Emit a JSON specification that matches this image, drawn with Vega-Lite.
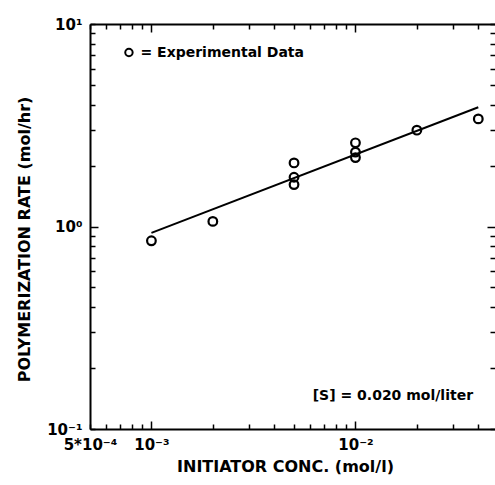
{
  "$schema": "https://vega.github.io/schema/vega-lite/v6.json",
  "width": 405,
  "height": 405,
  "autosize": "none",
  "padding": {"left": 90, "top": 24, "right": 0, "bottom": 56},
  "background": "white",
  "config": {
    "view": {"stroke": null},
    "axis": {
      "grid": false,
      "domainColor": "black",
      "domainWidth": 2,
      "tickColor": "black",
      "tickWidth": 1.5,
      "labelFont": "DejaVu Sans",
      "labelFontWeight": "bold",
      "labelFontSize": 15,
      "labelColor": "black",
      "labelFlush": false,
      "labelOverlap": false,
      "labelBound": false,
      "titleFont": "DejaVu Sans",
      "titleFontWeight": "bold",
      "titleFontSize": 16,
      "titleColor": "black"
    }
  },
  "datasets": {
    "obs": [
      {"conc": 0.001, "rate": 0.85},
      {"conc": 0.002, "rate": 1.06},
      {"conc": 0.005, "rate": 2.06},
      {"conc": 0.005, "rate": 1.75},
      {"conc": 0.005, "rate": 1.61},
      {"conc": 0.01, "rate": 2.59},
      {"conc": 0.01, "rate": 2.33},
      {"conc": 0.01, "rate": 2.19},
      {"conc": 0.02, "rate": 2.99},
      {"conc": 0.04, "rate": 3.40}
    ],
    "fit": [
      {"conc": 0.001, "rate": 0.93},
      {"conc": 0.04, "rate": 3.88}
    ],
    "legendmark": [
      {"conc": 0.000776, "rate": 7.23}
    ],
    "legendtext": [
      {"conc": 0.000884, "rate": 7.23, "label": "= Experimental Data"}
    ],
    "condition": [
      {"conc": 0.0377, "rate": 0.1455, "label": "[S] = 0.020 mol/liter"}
    ]
  },
  "layer": [
    {
      "data": {"name": "obs"},
      "mark": {"type": "point", "shape": "circle", "filled": false, "stroke": "black", "strokeWidth": 2.2, "size": 75, "opacity": 1},
      "encoding": {
        "x": {
          "field": "conc", "type": "quantitative",
          "scale": {"type": "log", "domain": [0.0005, 0.0483], "nice": false},
          "axis": {
            "orient": "bottom",
            "values": [0.0005, 0.0006, 0.0007, 0.0008, 0.0009, 0.001, 0.002, 0.003, 0.004, 0.005, 0.006, 0.007, 0.008, 0.009, 0.01, 0.02, 0.03, 0.04],
            "tickSize": {"condition": {"test": "datum.value == 0.001 || datum.value == 0.01", "value": -8}, "value": -5},
            "labelPadding": {"condition": {"test": "datum.value == 0.001 || datum.value == 0.01", "value": 16}, "value": 13},
            "labelExpr": "datum.value == 0.0005 ? '5*10⁻⁴' : datum.value == 0.001 ? '10⁻³' : datum.value == 0.01 ? '10⁻²' : ''",
            "title": "INITIATOR CONC. (mol/l)",
            "titlePadding": 6,
            "titleX": 195
          }
        },
        "y": {
          "field": "rate", "type": "quantitative",
          "scale": {"type": "log", "domain": [0.1, 10], "nice": false},
          "axis": {
            "orient": "left",
            "values": [0.1, 0.2, 0.3, 0.4, 0.5, 0.6, 0.7, 0.8, 0.9, 1, 2, 3, 4, 5, 6, 7, 8, 9, 10],
            "tickSize": {"condition": {"test": "datum.value == 1", "value": -8}, "value": -5},
            "labelPadding": {"condition": {"test": "datum.value == 1", "value": 16}, "value": 13},
            "labelExpr": "datum.value == 0.1 ? '10⁻¹' : datum.value == 1 ? '10⁰' : datum.value == 10 ? '10¹' : ''",
            "title": "POLYMERIZATION RATE (mol/hr)",
            "titlePadding": 14,
            "titleY": 215
          }
        }
      }
    },
    {
      "data": {"name": "fit"},
      "mark": {"type": "line", "color": "black", "strokeWidth": 2},
      "encoding": {
        "x": {
          "field": "conc", "type": "quantitative",
          "scale": {"type": "log", "domain": [0.0005, 0.0483], "nice": false},
          "axis": {
            "orient": "top",
            "values": [0.0005, 0.0006, 0.0007, 0.0008, 0.0009, 0.001, 0.002, 0.003, 0.004, 0.005, 0.006, 0.007, 0.008, 0.009, 0.01, 0.02, 0.03, 0.04],
            "tickSize": {"condition": {"test": "datum.value == 0.001 || datum.value == 0.01", "value": -8}, "value": -5},
            "labels": false,
            "title": null
          }
        },
        "y": {
          "field": "rate", "type": "quantitative",
          "scale": {"type": "log", "domain": [0.1, 10], "nice": false},
          "axis": {
            "orient": "right",
            "values": [0.1, 0.2, 0.3, 0.4, 0.5, 0.6, 0.7, 0.8, 0.9, 1, 2, 3, 4, 5, 6, 7, 8, 9, 10],
            "tickSize": {"condition": {"test": "datum.value == 1", "value": -8}, "value": -5},
            "domain": false,
            "labels": false,
            "title": null
          }
        }
      }
    },
    {
      "data": {"name": "legendmark"},
      "mark": {"type": "point", "shape": "circle", "filled": false, "stroke": "black", "strokeWidth": 2, "size": 55, "opacity": 1},
      "encoding": {
        "x": {"field": "conc", "type": "quantitative", "scale": {"type": "log", "domain": [0.0005, 0.0483], "nice": false}, "axis": null},
        "y": {"field": "rate", "type": "quantitative", "scale": {"type": "log", "domain": [0.1, 10], "nice": false}, "axis": null}
      }
    },
    {
      "data": {"name": "legendtext"},
      "mark": {"type": "text", "font": "DejaVu Sans", "fontWeight": "bold", "fontSize": 14, "color": "black", "baseline": "middle", "align": "left"},
      "encoding": {
        "x": {"field": "conc", "type": "quantitative", "scale": {"type": "log", "domain": [0.0005, 0.0483], "nice": false}, "axis": null},
        "y": {"field": "rate", "type": "quantitative", "scale": {"type": "log", "domain": [0.1, 10], "nice": false}, "axis": null},
        "text": {"field": "label"}
      }
    },
    {
      "data": {"name": "condition"},
      "mark": {"type": "text", "font": "DejaVu Sans", "fontWeight": "bold", "fontSize": 14, "color": "black", "baseline": "middle", "align": "right"},
      "encoding": {
        "x": {"field": "conc", "type": "quantitative", "scale": {"type": "log", "domain": [0.0005, 0.0483], "nice": false}, "axis": null},
        "y": {"field": "rate", "type": "quantitative", "scale": {"type": "log", "domain": [0.1, 10], "nice": false}, "axis": null},
        "text": {"field": "label"}
      }
    }
  ],
  "resolve": {"axis": {"x": "independent", "y": "independent"}}
}
